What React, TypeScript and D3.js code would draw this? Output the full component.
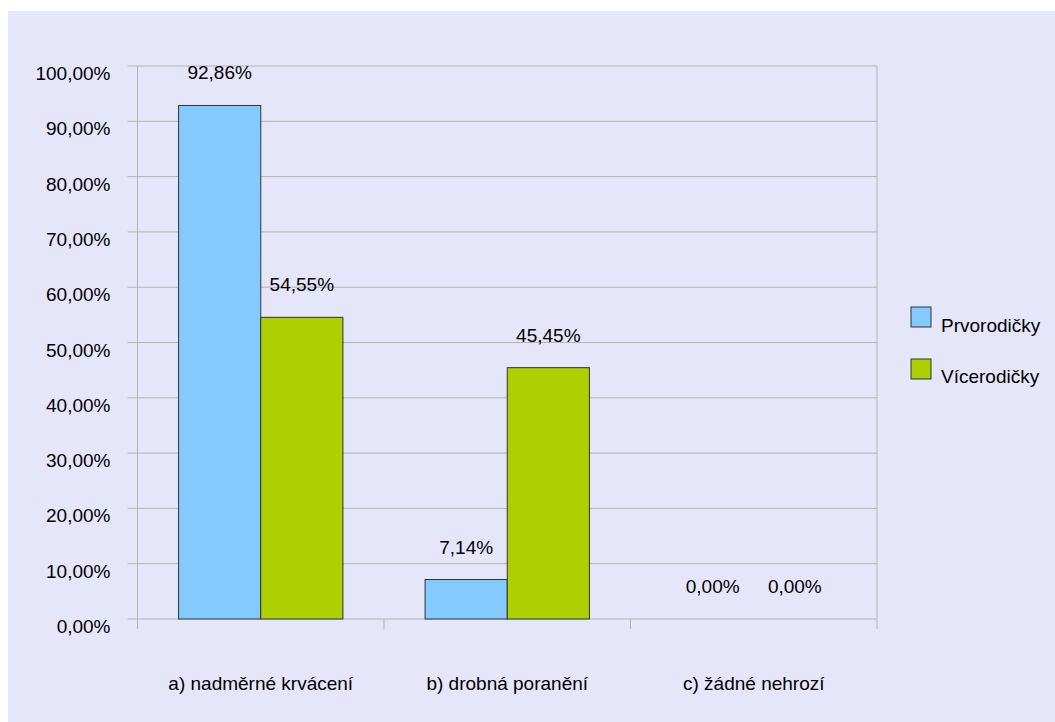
import React from "react";
import * as d3 from "d3";

const categories = ["a) nadměrné krvácení", "b) drobná poranění", "c) žádné nehrozí"];
const seriesNames = ["Prvorodičky", "Vícerodičky"];
const prvorodicky = [0.9286, 0.0714, 0.0];
const vicerodicky = [0.5455, 0.4545, 0.0];
const yTicks = [0, 0.1, 0.2, 0.3, 0.4, 0.5, 0.6, 0.7, 0.8, 0.9, 1.0];
const colors = ["#83CAFF", "#AECF00"];

const W = 1055;
const H = 722;
const plotLeft = 137.5;
const plotRight = 877;
const plotTop = 66;
const plotBottom = 619;
const FONT = "'Liberation Sans', Arial, sans-serif";
const FS = 19;

const locale = d3.formatLocale({ decimal: ",", thousands: " ", grouping: [3], currency: ["", ""] });
const fmt = locale.format(".2%");

export default function App() {
  const x0 = d3.scaleBand<string>().domain(categories).range([plotLeft, plotRight]).paddingInner(0).paddingOuter(0);
  const x1 = d3.scaleBand<string>().domain(seriesNames).range([0, x0.bandwidth()]).paddingInner(0).paddingOuter(0.5);
  const y = d3.scaleLinear().domain([0, 1]).range([plotBottom, plotTop]);
  const data = [prvorodicky, vicerodicky];
  const boundaries = [...categories.map((c) => x0(c) as number), plotRight];

  return (
    <svg width={W} height={H} style={{ position: "absolute", left: 0, top: 0 }} fontFamily={FONT}>
      <rect x={8} y={11} width={W - 8} height={H - 11} fill="#E6E6FB" />
      {yTicks.map((t) => (
        <line key={"g" + t} x1={plotLeft - 10} x2={plotRight} y1={y(t)} y2={y(t)} stroke="#B3B3B3" strokeWidth={1} />
      ))}
      <line x1={plotLeft} x2={plotLeft} y1={plotTop} y2={plotBottom + 10} stroke="#B3B3B3" />
      <line x1={plotRight} x2={plotRight} y1={plotTop} y2={plotBottom + 10} stroke="#B3B3B3" />
      {boundaries.slice(1, -1).map((b, i) => (
        <line key={"xt" + i} x1={b} x2={b} y1={plotBottom} y2={plotBottom + 10} stroke="#B3B3B3" />
      ))}
      {yTicks.map((t) => (
        <text key={"yl" + t} x={110.5} y={y(t) + 14} textAnchor="end" fontSize={FS} fill="#000">
          {fmt(t)}
        </text>
      ))}
      {categories.map((c, ci) =>
        seriesNames.map((s, si) => {
          const v = data[si][ci];
          const bx = (x0(c) as number) + (x1(s) as number);
          return (
            <g key={c + s}>
              {v > 0 && (
                <rect x={bx} y={y(v)} width={x1.bandwidth()} height={plotBottom - y(v)} fill={colors[si]} stroke="#333" strokeWidth={1} />
              )}
              <text x={bx + x1.bandwidth() / 2} y={y(v) - 26} textAnchor="middle" fontSize={FS} fill="#000">
                {fmt(v)}
              </text>
            </g>
          );
        })
      )}
      {categories.map((c) => (
        <text key={"cl" + c} x={(x0(c) as number) + x0.bandwidth() / 2} y={690} textAnchor="middle" fontSize={FS} fill="#000">
          {c}
        </text>
      ))}
      {seriesNames.map((s, i) => (
        <g key={"lg" + s}>
          <rect x={911} y={307 + i * 52} width={20} height={20} fill={colors[i]} stroke="#333" strokeWidth={1} />
          <text x={941} y={332 + i * 51} fontSize={FS} fill="#000">
            {s}
          </text>
        </g>
      ))}
    </svg>
  );
}
